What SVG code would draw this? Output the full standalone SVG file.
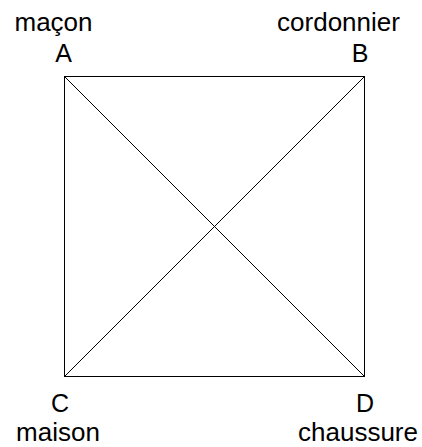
<svg xmlns="http://www.w3.org/2000/svg" width="422" height="447" viewBox="0 0 422 447">
<style>
.w{font-family:"Liberation Sans",Arial,sans-serif;font-size:26px;fill:#000;text-anchor:middle}
.l{font-family:"Liberation Sans",Arial,sans-serif;font-size:25px;fill:#000;text-anchor:middle}
.e{stroke:#000;stroke-width:1;fill:none}
</style>
<rect width="422" height="447" fill="#fff"/>
<g id="square"><rect class="e" x="64.5" y="76.5" width="300" height="300"/></g>
<g id="connectors">
<line class="e" x1="64.5" y1="76.5" x2="364.5" y2="376.5"/>
<line class="e" x1="364.5" y1="76.5" x2="64.5" y2="376.5"/>
</g>
<g id="A"><text class="w" x="53.5" y="31">maçon</text><text class="l" x="63.5" y="62">A</text></g>
<g id="B"><text class="w" x="338.5" y="31">cordonnier</text><text class="l" x="360" y="62">B</text></g>
<g id="C"><text class="l" x="60" y="412">C</text><text class="w" x="58" y="441">maison</text></g>
<g id="D"><text class="l" x="365" y="412">D</text><text class="w" x="358" y="441">chaussure</text></g>
</svg>
